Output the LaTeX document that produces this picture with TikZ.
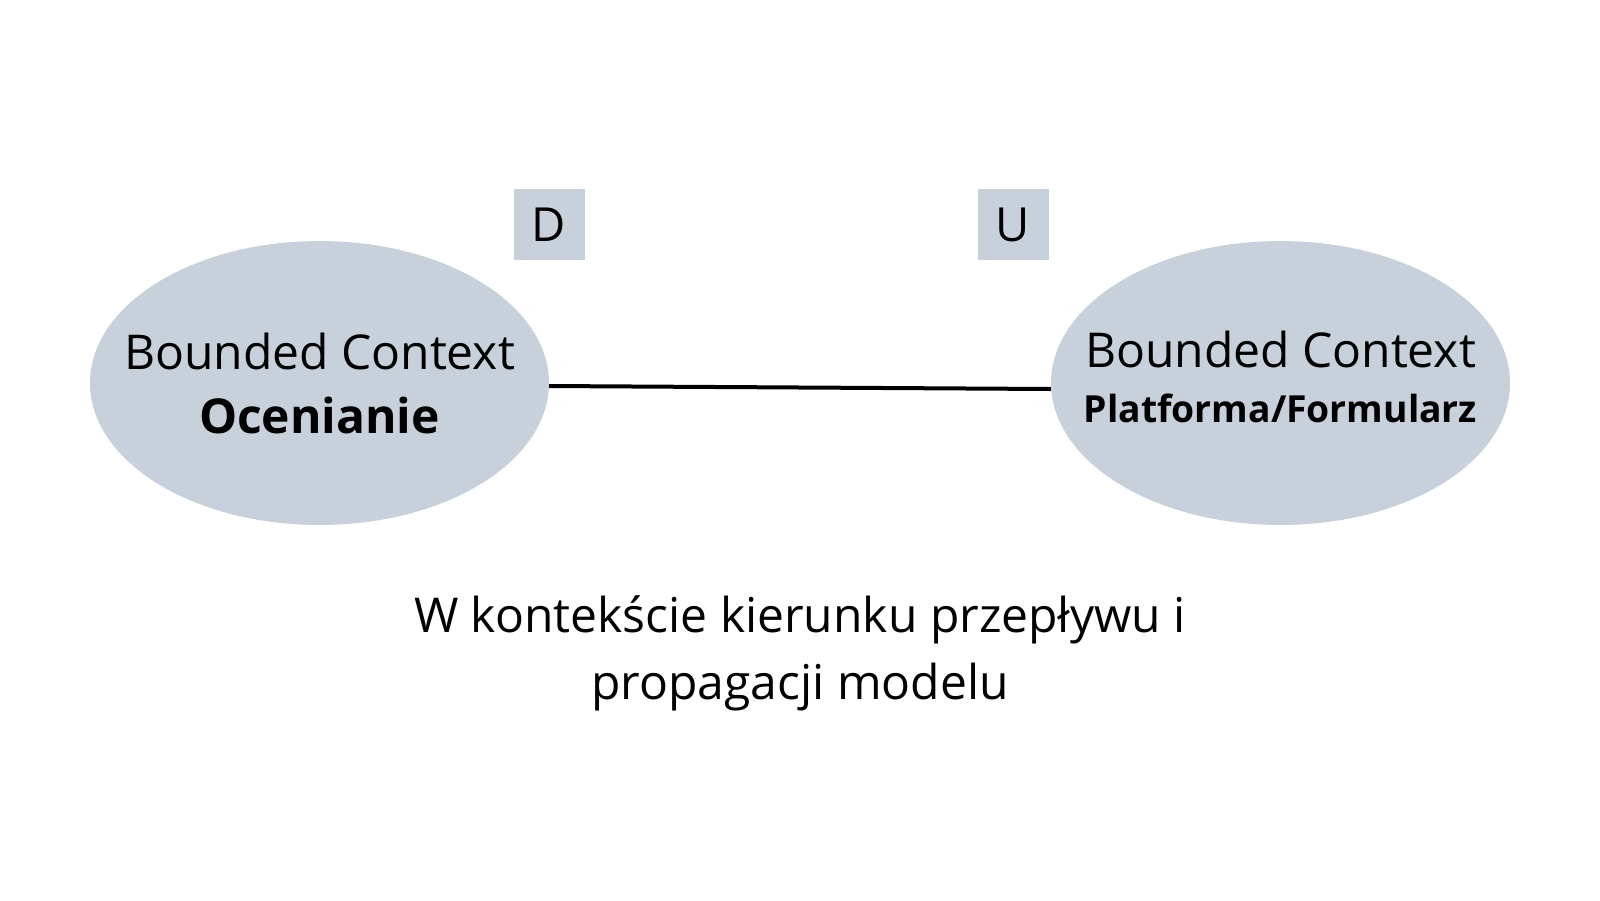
\documentclass[tikz,border=0pt]{standalone}
\usepackage{fontspec}
\setmainfont{Open Sans}
\usetikzlibrary{shapes.geometric}
\definecolor{bcfill}{HTML}{C8D1DB}
\tikzset{
  ctx/.style={ellipse, fill=bcfill, minimum width=459pt, minimum height=284pt, inner sep=0pt},
  ctxtext/.style={align=center, inner sep=0pt},
  tag/.style={fill=bcfill, minimum width=71pt, minimum height=71pt, inner sep=0pt, font=\fontsize{47}{54}\selectfont},
  link/.style={line width=4pt, black}
}
\begin{document}
\begin{tikzpicture}[x=1pt,y=-1pt]
\useasboundingbox[fill=white] (0,0) rectangle (1600,900);
\node[ctx] (oc) at (319.5,383) {};
\node[ctx] (pf) at (1280.5,383) {};
\node[ctxtext, font=\fontsize{48}{64}\selectfont] (oct) at (oc.center) {Bounded Context\\\bfseries Ocenianie};
\node[ctxtext, font=\fontsize{48}{55}\selectfont] (pft) at ([yshift=6pt]pf.center) {Bounded Context\\{\fontsize{37.3}{52}\selectfont\bfseries Platforma/Formularz}};
\node[tag] (d) at (549,224.5) {D};
\node[tag] (u) at (1013,224.5) {U};
\path (oc.east) ++(0,3) coordinate (a);
\path (pf.west) ++(0,6) coordinate (b);
\draw[link] (a) -- (b);
\node[align=center, font=\fontsize{48}{67}\selectfont] (cap) at (800,653) {W kontekście kierunku przepływu i\\propagacji modelu};
\end{tikzpicture}
\end{document}
